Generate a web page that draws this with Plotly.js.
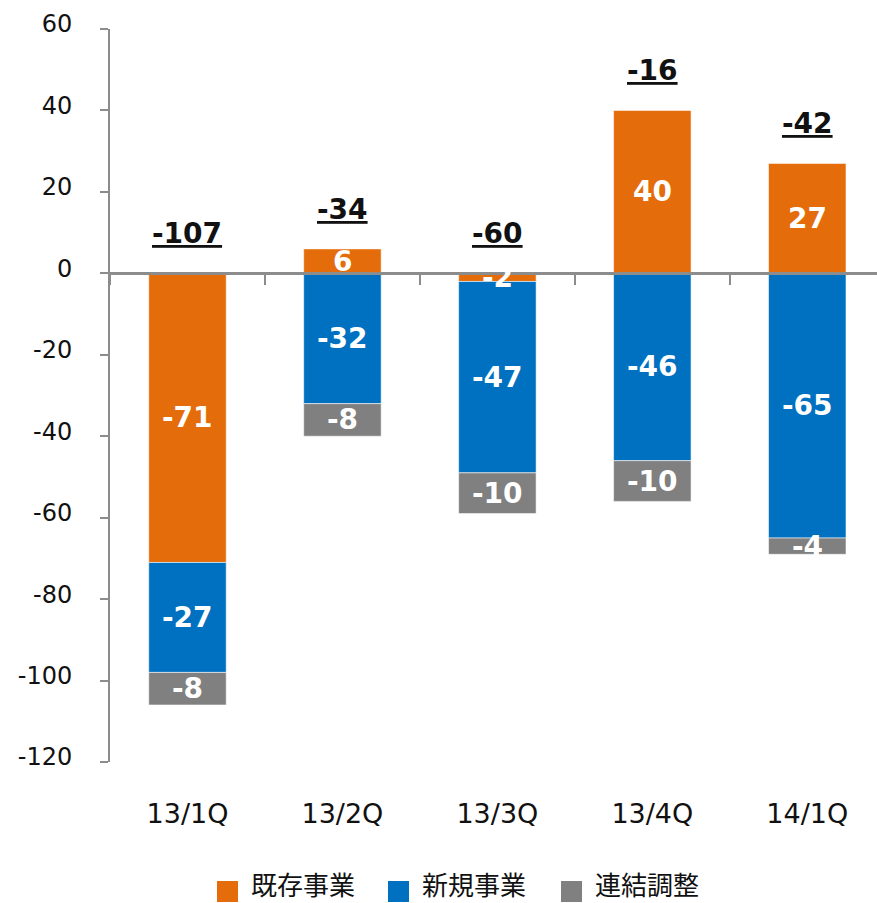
<!DOCTYPE html>
<html>
<head>
<meta charset="utf-8">
<script src="https://cdn.plot.ly/plotly-3.0.1.min.js"></script>
<style>html,body{margin:0;padding:0;background:#fff;}#chart{width:877px;height:903px;}</style>
</head>
<body>
<div id="chart"></div>
<script>
// ---- data ----
const categories = ['13/1Q', '13/2Q', '13/3Q', '13/4Q', '14/1Q'];
const seriesNames = ['既存事業', '新規事業', '連結調整'];
const existing = [-71, 6, -2, 40, 27];
const newBiz = [-27, -32, -47, -46, -65];
const consolidation = [-8, -8, -10, -10, -4];
const totals = [-107, -34, -60, -16, -42];
const yTicks = [60, 40, 20, 0, -20, -40, -60, -80, -100, -120];

// ---- styles ----
const colors = ['#E46C0A', '#0070C0', '#808080'];
const W = 877, H = 903;
const margin = {l: 110, r: 0, t: 29, b: 141};
const plotW = W - margin.l - margin.r, plotH = H - margin.t - margin.b;
const yMin = -120, yMax = 60;
const numFont = 'DejaVu Sans, Verdana, sans-serif';
const cjkFont = 'Noto Sans CJK JP, sans-serif';
const seriesVals = [existing, newBiz, consolidation];

const traces = seriesVals.map((vals, s) => ({
  type: 'bar', name: seriesNames[s], x: categories, y: vals,
  marker: {color: colors[s], line: {color: 'rgba(255,255,255,0.55)', width: 1}},
  width: 0.5, showlegend: false, hoverinfo: 'skip'
}));

const annotations = [];

// in-bar value labels, placed at the centre of each stacked segment (relative stacking)
categories.forEach((c, i) => {
  let posBase = 0, negBase = 0;
  seriesVals.forEach(vals => {
    const v = vals[i];
    let y0, y1;
    if (v >= 0) { y0 = posBase; y1 = posBase + v; posBase = y1; }
    else { y0 = negBase; y1 = negBase + v; negBase = y1; }
    annotations.push({
      x: c, y: (y0 + y1) / 2, xref: 'x', yref: 'y', showarrow: false,
      text: '<b>' + v + '</b>', yanchor: 'middle',
      font: {family: numFont, size: 28, color: '#FFFFFF'}
    });
  });
});

// total labels above each stack
categories.forEach((c, i) => {
  annotations.push({
    x: c, y: Math.max(0, existing[i]), xref: 'x', yref: 'y',
    text: '<b><u>' + totals[i] + '</u></b>', showarrow: false,
    yanchor: 'bottom', yshift: 21,
    font: {family: numFont, size: 28, color: '#111111'}
  });
});

// custom legend (px -> paper)
const px = x => (x - margin.l) / plotW;
const py = y => (H - margin.b - y) / plotH;
const legendItems = [{sq: 217, tx: 250}, {sq: 388, tx: 421}, {sq: 561, tx: 594}];
const shapes = [];
legendItems.forEach((it, i) => {
  shapes.push({type: 'rect', xref: 'paper', yref: 'paper',
    x0: px(it.sq), x1: px(it.sq + 21), y0: py(902), y1: py(881),
    fillcolor: colors[i], line: {width: 0}});
  annotations.push({xref: 'paper', yref: 'paper', x: px(it.tx), y: py(903),
    xanchor: 'left', yanchor: 'bottom', showarrow: false, text: seriesNames[i],
    borderpad: 0,
    font: {family: cjkFont, size: 26, color: '#111111'}});
});

const axisGray = '#8C8C8C';
const layout = {
  width: W, height: H, margin: margin,
  paper_bgcolor: '#FFFFFF', plot_bgcolor: '#FFFFFF',
  barmode: 'relative', showlegend: false,
  font: {family: numFont, color: '#111111'},
  xaxis: {
    type: 'category', range: [-0.5, 4.45],
    anchor: 'free', position: (0 - yMin) / (yMax - yMin),
    showline: true, linecolor: axisGray, linewidth: 2.5,
    ticks: 'outside', tickson: 'boundaries', ticklen: 10, tickwidth: 2, tickcolor: axisGray,
    showgrid: false, zeroline: false,
    tickfont: {family: numFont, size: 27, color: '#111111'},
    ticklabelstandoff: 516, automargin: false
  },
  yaxis: {
    range: [yMin, yMax], tickmode: 'array', tickvals: yTicks, ticktext: yTicks.map(String),
    showline: true, linecolor: axisGray, linewidth: 2,
    ticks: 'outside', ticklen: 8, tickwidth: 2, tickcolor: axisGray,
    showgrid: false, zeroline: false,
    tickfont: {family: numFont, size: 24, color: '#111111'},
    ticklabelstandoff: 23, ticklabelshift: -5, automargin: false
  },
  annotations: annotations, shapes: shapes
};

Plotly.newPlot('chart', traces, layout, {displayModeBar: false, staticPlot: true});
</script>
</body>
</html>
